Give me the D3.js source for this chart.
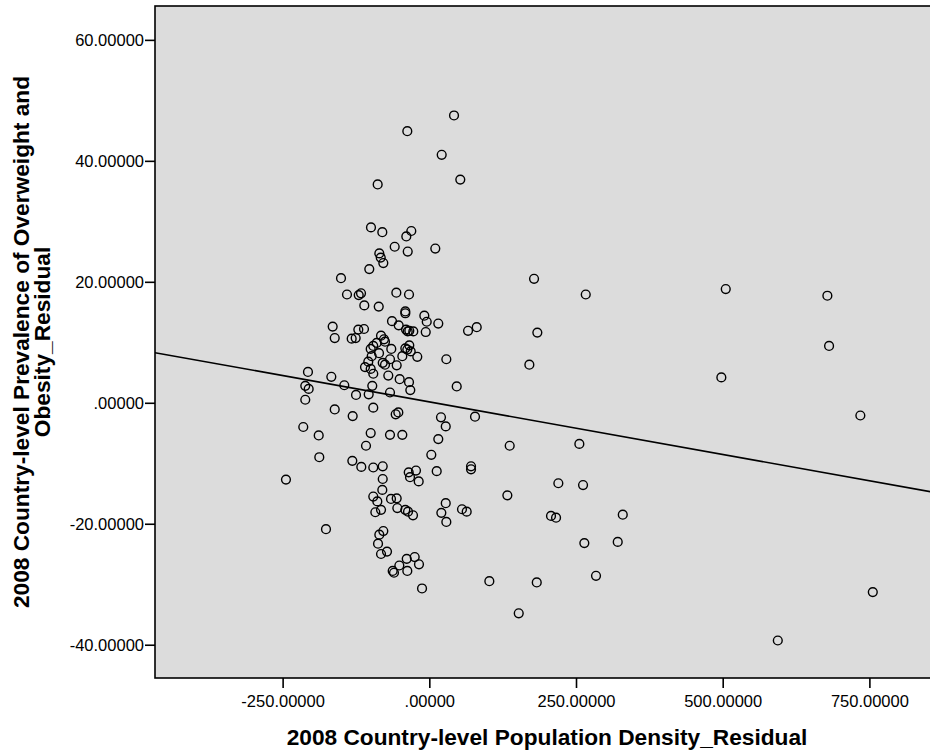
<!DOCTYPE html>
<html>
<head>
<meta charset="utf-8">
<script src="https://cdn.jsdelivr.net/npm/d3@7"></script>
<style>
  html, body { margin: 0; padding: 0; background: #fff; }
  svg { display: block; font-family: "Liberation Sans", Arial, sans-serif; }
</style>
</head>
<body>
<svg id="chart" width="930" height="751"></svg>
<script>
// residuals: [population density residual, overweight/obesity residual]
const densityResid = [
  42.1, -37.5, 21.1, 52.8, -88.0, -99.4, -80.1, -30.7, -39.2, -59.0, -36.8, 10.2, -85.2, -82.8, -78.4, -102.3, -150.5,
  -140.3, -120.3, -116.4, -56.2, -34.6, -110.8, -86.2, -40.9, -40.9, -8.5, -4.4, 15.3, -63.6, -52.2, -164.7, -161.2,
  -132.3, -125.5, -121.0, -111.3, -39.7, -34.1, -27.3, -36.8, -6.1, 66.0, 80.8, -82.3, -77.2, -75.5, -89.7, -95.5,
  -99.9, -85.7, -64.8, -40.9, -34.1, -31.7, -37.5, -46.0, -20.5, 29.0, -98.2, -104.0, -67.0, -79.4, -75.5, -55.6,
  -109.6, -99.9, -95.5, -69.9, -50.5, -34.6, -32.4, -67.0, -97.2, -103.3, -124.9, -144.9, -167.0, -206.8, -211.4,
  -205.6, -211.4, 46.7, -161.2, -130.6, -95.5, -57.3, -52.8, 19.9, 28.0, 77.9, -214.8, -188.5, -99.9, -67.0, -46.0,
  15.3, -107.9, -187.5, 3.4, -131.2, -115.9, -95.5, -79.4, -35.1, -22.7, -32.9, -18.1, 12.6, 71.1, 71.1, -244.3,
  -79.4, -80.1, -95.5, -88.6, -65.3, -55.6, -54.5, -40.9, -36.3, -27.8, -92.0, -82.3, 28.0, 20.5, 29.0, 55.7, 63.7,
  -176.1, -78.4, -85.2, -87.4, -82.3, -72.1, -38.5, -24.9, -17.6, -51.1, -62.4, -60.2, -37.5, -12.4, 102.3,
  178.5, 266.6, 505.2, 678.4, 184.1, 170.5, 681.3, 497.7, 734.6, 137.0, 255.7, 219.9, 262.0, 133.0, 207.4, 216.0,
  329.7, 264.2, 321.1, 183.1, 284.1, 152.4, 755.8, 593.9
]
const obesityResid = [
  47.5, 44.9, 41.0, 36.9, 36.1, 29.0, 28.2, 28.4, 27.5, 25.8, 25.0, 25.5, 24.7, 24.0, 23.1, 22.1, 20.6,
  17.9, 17.8, 18.1, 18.2, 17.9, 16.1, 15.9, 15.1, 14.8, 14.4, 13.4, 13.1, 13.5, 12.8, 12.6, 10.7,
  10.6, 10.7, 12.1, 12.2, 12.1, 11.9, 11.8, 11.8, 11.7, 11.9, 12.5, 11.1, 10.5, 10.1, 9.9, 9.4,
  8.9, 8.2, 8.9, 9.0, 9.5, 8.5, 8.8, 7.7, 7.6, 7.2, 7.7, 6.8, 7.2, 6.6, 6.3, 6.2,
  5.9, 5.6, 4.8, 4.5, 3.9, 3.4, 2.1, 1.7, 2.8, 1.4, 1.3, 2.9, 4.3, 5.1, 2.8,
  2.3, 0.5, 2.7, -1.1, -2.2, -0.8, -1.9, -1.6, -2.4, -3.9, -2.3, -4.0, -5.4, -5.0, -5.3, -5.3,
  -6.0, -7.1, -9.0, -8.6, -9.6, -10.6, -10.7, -10.5, -11.5, -11.2, -12.3, -13.0, -11.3, -10.5, -11.0, -12.7,
  -12.6, -14.4, -15.5, -16.3, -15.9, -15.8, -17.4, -17.7, -18.0, -18.6, -18.1, -17.7, -16.6, -18.2, -19.7, -17.6, -18.0,
  -20.9, -21.2, -21.8, -23.3, -25.0, -24.6, -25.8, -25.5, -26.7, -26.9, -27.8, -28.1, -27.8, -30.7, -29.5,
  20.5, 17.9, 18.8, 17.7, 11.6, 6.3, 9.4, 4.2, -2.1, -7.1, -6.8, -13.3, -13.6, -15.3, -18.7, -19.0,
  -18.5, -23.2, -23.0, -29.7, -28.6, -34.8, -31.3, -39.3
]
const xTicks = [-250, 0, 250, 500, 750]
const yTicks = [-40, -20, 0, 20, 40, 60]
const fitIntercept = 0.15
const fitSlope = -0.0174
const xTitle = '2008 Country-level Population Density_Residual'
const yTitle = ['2008 Country-level Prevalence of Overweight and', 'Obesity_Residual']

const L = 155, T = 6, R = 931, B = 678

var svg = d3.select('#chart')
var x = d3.scaleLinear().domain([-467.5, 855]).range([L, R])
var y = d3.scaleLinear().domain([-45.5, 65.6]).range([B, T])

// SPSS style labels: .00000 instead of 0.00000, plain hyphen for minus
var f5 = d3.format('.5f')
function spss(v) { var s = f5(v).replace('\u2212', '-'); return s.replace(/^(-?)0\./, '$1.') }

svg.append('defs').append('clipPath').attr('id', 'plotclip')
    .append('rect').attr('x', L).attr('y', T).attr('width', R - L).attr('height', B - T)

svg.append('rect').attr('x', L).attr('y', T).attr('width', R - L).attr('height', B - T)
    .attr('fill', '#dcdcdc')

var pts = densityResid.map(function (d, i) { return { x: d, y: obesityResid[i] } })

var plot = svg.append('g').attr('clip-path', 'url(#plotclip)')

plot.selectAll('circle.pt').data(pts).join('circle').attr('class', 'pt')
    .attr('cx', function (d) { return x(d.x) })
    .attr('cy', function (d) { return y(d.y) })
    .attr('r', 4.4)
    .attr('fill', 'none').attr('stroke', '#000').attr('stroke-width', 1.4)

var xd = x.domain()
plot.append('line')
    .attr('x1', x(xd[0])).attr('y1', y(fitIntercept + fitSlope * xd[0]))
    .attr('x2', x(xd[1])).attr('y2', y(fitIntercept + fitSlope * xd[1]))
    .attr('stroke', '#000').attr('stroke-width', 1.6)

// frame
svg.append('rect').attr('x', L).attr('y', T).attr('width', R - L).attr('height', B - T)
    .attr('fill', 'none').attr('stroke', '#000').attr('stroke-width', 1.6)

var xAxis = svg.append('g').attr('transform', 'translate(0,' + B + ')')
    .call(d3.axisBottom(x).tickValues(xTicks).tickFormat(spss).tickSize(10).tickSizeOuter(0).tickPadding(8))
var yAxis = svg.append('g').attr('transform', 'translate(' + L + ',0)')
    .call(d3.axisLeft(y).tickValues(yTicks).tickFormat(spss).tickSize(10).tickSizeOuter(0).tickPadding(1))

;[xAxis, yAxis].forEach(function (a) {
    a.select('.domain').remove()
    a.selectAll('.tick line').attr('stroke', '#000').attr('stroke-width', 1.6)
    a.selectAll('.tick text').attr('fill', '#000').attr('font-size', '16.5px')
        .attr('font-family', '"Liberation Sans", Arial, sans-serif')
})
xAxis.selectAll('.tick text').attr('dy', null).attr('y', 29)

svg.append('text').attr('x', 547).attr('y', 745).attr('text-anchor', 'middle')
    .attr('font-size', '22.7px').attr('font-weight', 'bold').attr('fill', '#000')
    .text(xTitle)

var yt = svg.append('text').attr('transform', 'translate(29,' + ((T + B) / 2) + ') rotate(-90)')
    .attr('text-anchor', 'middle').attr('font-size', '22.7px').attr('font-weight', 'bold').attr('fill', '#000')
yt.selectAll('tspan').data(yTitle).join('tspan')
    .attr('x', 0).attr('y', function (d, i) { return i * 21 })
    .text(function (d) { return d })
</script>
</body>
</html>
